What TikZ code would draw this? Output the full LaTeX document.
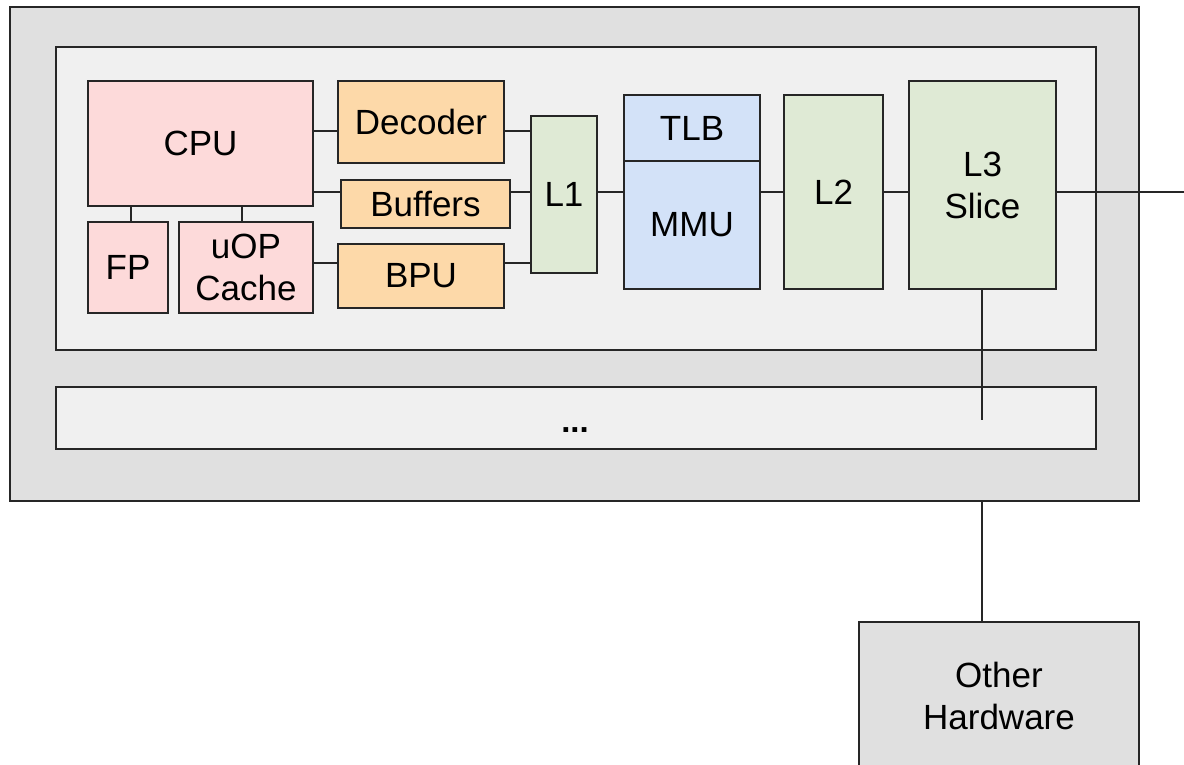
\documentclass[tikz,border=0pt]{standalone}
\usepackage{fontspec}
\setmainfont{Liberation Sans}
\definecolor{shell}{HTML}{E0E0E0}
\definecolor{core}{HTML}{F0F0F0}
\definecolor{cpupink}{HTML}{FDDADA}
\definecolor{frontend}{HTML}{FDD9A9}
\definecolor{cachegreen}{HTML}{DFEAD5}
\definecolor{mmublue}{HTML}{D3E2F8}
\begin{document}
\begin{tikzpicture}[x=1pt,y=-1pt,
  unit/.style={draw=black!85, line width=2.2pt, inner sep=0pt, outer sep=0pt,
    align=center, font=\fontsize{35}{42}\selectfont},
  wire/.style={draw=black!85, line width=2.2pt}]
\useasboundingbox (0,0) rectangle (1184,764);
\clip (0,0) rectangle (1184,764);

% enclosing package and core
\node[unit, fill=shell, minimum width=1129, minimum height=494] (pkg) at (574.5,254) {};
\node[unit, fill=core, minimum width=1040, minimum height=303] (corebox) at (576,198.5) {};
\node[unit, fill=core, minimum width=1040, minimum height=62] (more) at (576,418) {};
\node[anchor=base, inner sep=0pt, font=\bfseries\fontsize{33}{40}\selectfont] (dots) at (575,432) {...};

% execution side
\node[unit, fill=cpupink, minimum width=225, minimum height=125] (cpu) at (200.5,143.5) {CPU};
\node[unit, fill=cpupink, minimum width=80, minimum height=91] (fp) at (128,267.5) {FP};
\node[unit, fill=cpupink, minimum width=134, minimum height=91] (uop) at (246,267.5) {uOP\\Cache};

% front end
\node[unit, fill=frontend, minimum width=166, minimum height=82] (dec) at (421,122) {Decoder};
\node[unit, fill=frontend, minimum width=169, minimum height=48] (buf) at (425.5,204) {Buffers};
\node[unit, fill=frontend, minimum width=166, minimum height=64] (bpu) at (421,276) {BPU};

% memory hierarchy
\node[unit, fill=cachegreen, minimum width=66, minimum height=157] (l1) at (564,194.5) {L1};
\node[unit, fill=mmublue, minimum width=136, minimum height=66] (tlb) at (692,128) {TLB};
\node[unit, fill=mmublue, minimum width=136, minimum height=128] (mmu) at (692,225) {MMU};
\node[unit, fill=cachegreen, minimum width=99, minimum height=194] (l2) at (833.5,192) {L2};
\node[unit, fill=cachegreen, minimum width=147, minimum height=208] (l3) at (982.5,185) {L3\\Slice};

\node[unit, fill=shell, minimum width=280, minimum height=148] (other) at (999,696) {Other\\Hardware};

% wire levels and free ends
\coordinate (ya) at (0,131);
\coordinate (yb) at (0,192);
\coordinate (yc) at (0,263);
\coordinate (xfp) at (131,0);
\coordinate (xuop) at (242,0);
\coordinate (xl3) at (982,0);
\coordinate (ring) at (982,420);
\coordinate (offchip) at (1184,192);

\draw[wire] (cpu.east |- ya) -- (dec.west |- ya);
\draw[wire] (dec.east |- ya) -- (l1.west |- ya);
\draw[wire] (cpu.east |- yb) -- (buf.west |- yb);
\draw[wire] (buf.east |- yb) -- (l1.west |- yb);
\draw[wire] (uop.east |- yc) -- (bpu.west |- yc);
\draw[wire] (bpu.east |- yc) -- (l1.west |- yc);
\draw[wire] (xfp |- fp.north) -- (xfp |- cpu.south);
\draw[wire] (xuop |- uop.north) -- (xuop |- cpu.south);
\draw[wire] (l1.east |- yb) -- (mmu.west |- yb);
\draw[wire] (mmu.east |- yb) -- (l2.west |- yb);
\draw[wire] (l2.east |- yb) -- (l3.west |- yb);
\draw[wire] (l3.east |- yb) -- (offchip);
\draw[wire] (xl3 |- l3.south) -- (ring);
\draw[wire] (xl3 |- pkg.south) -- (xl3 |- other.north);
\end{tikzpicture}
\end{document}
